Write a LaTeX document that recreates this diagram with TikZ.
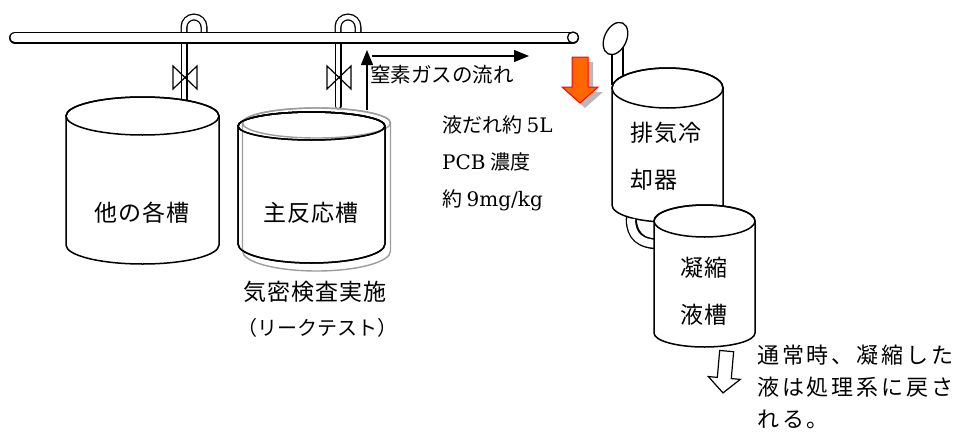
\documentclass[tikz,border=0pt]{standalone}
\usepackage{fontspec}
\setmainfont{Noto Sans CJK JP}
\newfontfamily\westfont{DejaVu Serif}
\usepackage{tikz}
\usetikzlibrary{positioning,arrows.meta,calc}
\definecolor{dripfill}{HTML}{FF6600}
\definecolor{dripline}{HTML}{FF0000}
\definecolor{ghostline}{HTML}{9C9C9C}
\newcommand{\latn}[1]{{\westfont #1}}
% drum: [style] cx, top y, bottom y, rx, top ry, bottom ry
\newcommand{\drum}[7][]{%
  \filldraw[#1] (#2-#5,#3) -- (#2-#5,#4)
    arc[start angle=180,end angle=0,x radius=#5,y radius=#7]
    -- (#2+#5,#3) arc[start angle=0,end angle=-180,x radius=#5,y radius=#6] -- cycle;
  \draw[#1,fill=none] (#2,#3) ellipse[x radius=#5,y radius=#6];}

\begin{document}
\begin{tikzpicture}[x=1pt,y=-1pt,
  tank/.style={line width=1.5pt,fill=white},
  ghosttank/.style={line width=1.4pt,draw=ghostline,fill=none},
  tube/.style={double=white,double distance=4.4pt,line width=1.3pt,line cap=round},
  mainpipe/.style={double=white,double distance=9pt,line width=1.5pt,line cap=round},
  valve/.style={line width=1.2pt},
  flow/.style={line width=1.2pt,-{Triangle[length=15pt,width=12pt]}},
  lbl/.style={inner sep=0pt,font=\fontsize{23}{28}\selectfont\addfontfeature{LetterSpace=5}},
  note/.style={inner sep=0pt,font=\fontsize{20}{37}\selectfont},
  sidenote/.style={inner sep=0pt,align=left,font=\fontsize{22}{32}\selectfont\addfontfeature{LetterSpace=13}}]
  \useasboundingbox (0,0) rectangle (957,431);
  % header pipe with hooks, stems and valves
  \coordinate (pipeL) at (15,37.5);
  \coordinate (pipeR) at (573,37.5);
  \draw[tube] (184,34) -- (184,27) arc[start angle=180,end angle=360,radius=10] -- (204,34);
  \draw[tube] (338,34) -- (338,27) arc[start angle=180,end angle=360,radius=10] -- (358,34);
  \draw[tube] (184,40) -- (184,101);
  \draw[tube] (338,40) -- (338,106);
  \draw[mainpipe] (pipeL) -- (pipeR);
  \filldraw[line width=1.3pt,fill=white] (pipeR) circle[radius=5.5];
  \foreach \vx in {185,339}
    \draw[valve] (\vx-12,66) -- (\vx-12,89) -- (\vx,77.5) -- cycle
                 (\vx+12,66) -- (\vx+12,89) -- (\vx,77.5) -- cycle;
  % tanks
  \drum[tank]{142.5}{116}{245}{76.5}{19}{19}
  \drum[tank]{311.5}{126}{244}{73.5}{14}{19}
  \drum[ghosttank]{316.5}{123}{251}{74}{15}{20}
  \drum[tank,fill=none]{311.5}{126}{244}{73.5}{14}{19}
  \node[lbl] (other) at (142,213) {他の各槽};
  \node[lbl] (reactor) at (311,213) {主反応槽};
  \node[lbl] (leak) at (315,292) {気密検査実施};
  \node[inner sep=0pt,font=\fontsize{20}{24}\selectfont] (leak2) at (317,328) {（リークテスト）};
  % nitrogen flow
  \coordinate (gasin) at (367,110);
  \coordinate (gasup) at (367,50);
  \coordinate (gasmid) at (372,56);
  \coordinate (gasout) at (529,56);
  \draw[flow] (gasin) -- (gasup);
  \draw[flow] (gasmid) -- (gasout);
  \node[inner sep=0pt,anchor=west,font=\fontsize{20.5}{24}\selectfont] (gas) at (370,75) {窒素ガスの流れ};
  % drip
  \fill[gray!55] (577,62) -- (593,62) -- (593,92) -- (603,92) -- (585,108) -- (567,92) -- (577,92) -- cycle;
  \filldraw[fill=dripfill,draw=dripline,line width=1pt] (572,57) -- (588,57) -- (588,87) -- (598,87) -- (580,103) -- (562,87) -- (572,87) -- cycle;
  \node[note,anchor=west,align=left] (drip) at (442,163) {液だれ約 \latn{5L}\\\latn{PCB} 濃度\\約 \latn{9mg/kg}};
  % exhaust cooler and condensate tank
  \filldraw[line width=1.3pt,fill=white] (612,48) rectangle (623,84);
  \filldraw[line width=1.3pt,fill=white,rotate around={-25:(615.5,38.5)}] (615.5,38.5) ellipse[x radius=11,y radius=17];
  \draw[double=white,double distance=8pt,line width=1.3pt] (631,212) .. controls (631,236) and (640,244) .. (660,244);
  \drum[tank]{667.5}{88}{205}{55.5}{20}{17}
  \draw[double=white,double distance=8pt,line width=1.3pt] (631,219) .. controls (631,236) and (640,244) .. (660,244);
  \drum[tank]{704.5}{221}{333}{50.5}{16}{14}
  \node[lbl,anchor=west] (cool1) at (630,133) {排気冷};
  \node[lbl,anchor=west] (cool2) at (630,180) {却器};
  \node[lbl] (cond1) at (704,268) {凝縮};
  \node[lbl] (cond2) at (704,315) {液槽};
  \draw[line width=1.2pt,fill=white,rotate around={-5:(725,370)}] (718,351) -- (732,351) -- (732,378) -- (741,378) -- (725,393) -- (709,378) -- (718,378) -- cycle;
  \node[sidenote,anchor=west] (back) at (757,387) {通常時、凝縮した\\液は処理系に戻さ\\れる。};
\end{tikzpicture}
\end{document}
